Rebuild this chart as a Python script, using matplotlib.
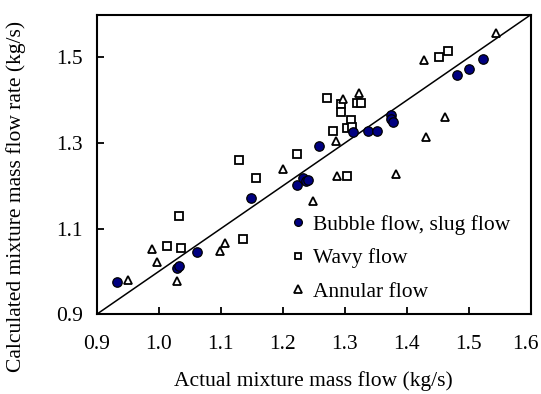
import matplotlib
matplotlib.use("Agg")
import matplotlib.pyplot as plt
import matplotlib.transforms as mtransforms

plt.rcParams['font.family'] = ['Liberation Serif', 'DejaVu Serif']

bubble_x = [0.932, 1.029, 1.033, 1.062, 1.149, 1.223, 1.232, 1.238, 1.240, 1.258,
            1.313, 1.338, 1.352, 1.374, 1.375, 1.378, 1.481, 1.500, 1.523]
bubble_y = [0.975, 1.008, 1.012, 1.046, 1.171, 1.203, 1.219, 1.211, 1.213, 1.292,
            1.325, 1.329, 1.329, 1.366, 1.357, 1.348, 1.460, 1.473, 1.497]

wavy_x = [1.013, 1.033, 1.036, 1.136, 1.129, 1.156, 1.223, 1.271, 1.281, 1.294,
          1.294, 1.303, 1.310, 1.311, 1.303, 1.319, 1.326, 1.452, 1.466]
wavy_y = [1.060, 1.129, 1.054, 1.077, 1.261, 1.219, 1.274, 1.405, 1.329, 1.391,
          1.372, 1.336, 1.354, 1.338, 1.222, 1.394, 1.394, 1.501, 1.515]

annular_x = [0.950, 0.989, 0.997, 1.029, 1.098, 1.107, 1.200, 1.249, 1.285, 1.287,
             1.297, 1.323, 1.383, 1.427, 1.430, 1.462, 1.543]
annular_y = [0.980, 1.052, 1.021, 0.978, 1.048, 1.067, 1.240, 1.164, 1.305, 1.222,
             1.402, 1.418, 1.228, 1.495, 1.314, 1.361, 1.556]

labels = ["Bubble flow, slug flow", "Wavy flow", "Annular flow"]
xticks = [0.9, 1.0, 1.1, 1.2, 1.3, 1.4, 1.5, 1.6]
yticks = [0.9, 1.1, 1.3, 1.5]
lims = [0.9, 1.6]

FS = 15.5

fig = plt.figure(figsize=(5.41, 3.94), dpi=100)
ax = fig.add_axes([0.1787, 0.2023, 0.9815 - 0.1787, 0.963 - 0.2023])

ax.plot(lims, lims, color='black', lw=1.1, zorder=1)
ax.plot(bubble_x, bubble_y, 'o', ms=6.8, mfc='#000080', mec='black', mew=0.9,
        label=labels[0], zorder=3)
ax.plot(wavy_x, wavy_y, 's', ms=5.6, mfc='white', mec='black', mew=1.3,
        label=labels[1], zorder=2)
ax.plot(annular_x, annular_y, '^', ms=6.4, mfc='white', mec='black', mew=1.3,
        label=labels[2], zorder=2)

ax.set_xlim(lims)
ax.set_ylim(lims)
ax.set_xticks(xticks)
ax.set_yticks(yticks)
ax.set_xticklabels([f"{v:.1f}" for v in xticks])
ax.set_yticklabels([f"{v:.1f}" for v in yticks])
ax.tick_params(direction='in', length=5, width=1.3, labelsize=FS, pad=10,
               top=False, right=False)
ax.tick_params(axis='x', pad=15)
for s in ax.spines.values():
    s.set_linewidth(1.5)

# nudge the last x tick label slightly left so it stays inside the figure
last = ax.get_xticklabels()[-1]
last.set_transform(last.get_transform() +
                   mtransforms.ScaledTranslation(-4 / 72, 0, fig.dpi_scale_trans))

ax.set_xlabel("Actual mixture mass flow (kg/s)", fontsize=FS)
ax.xaxis.set_label_coords(0.5, -0.19)
ax.set_ylabel("Calculated mixture mass flow rate (kg/s)", fontsize=FS)
ax.yaxis.set_label_coords(-0.163, 0.393)

ax.legend(loc='upper left', bbox_to_anchor=(0.449, 0.332), frameon=False,
          fontsize=FS, handlelength=0.6, handletextpad=0.38, borderpad=0,
          labelspacing=0.62, borderaxespad=0, markerscale=0.82)

fig.savefig("out.png", dpi=100)
